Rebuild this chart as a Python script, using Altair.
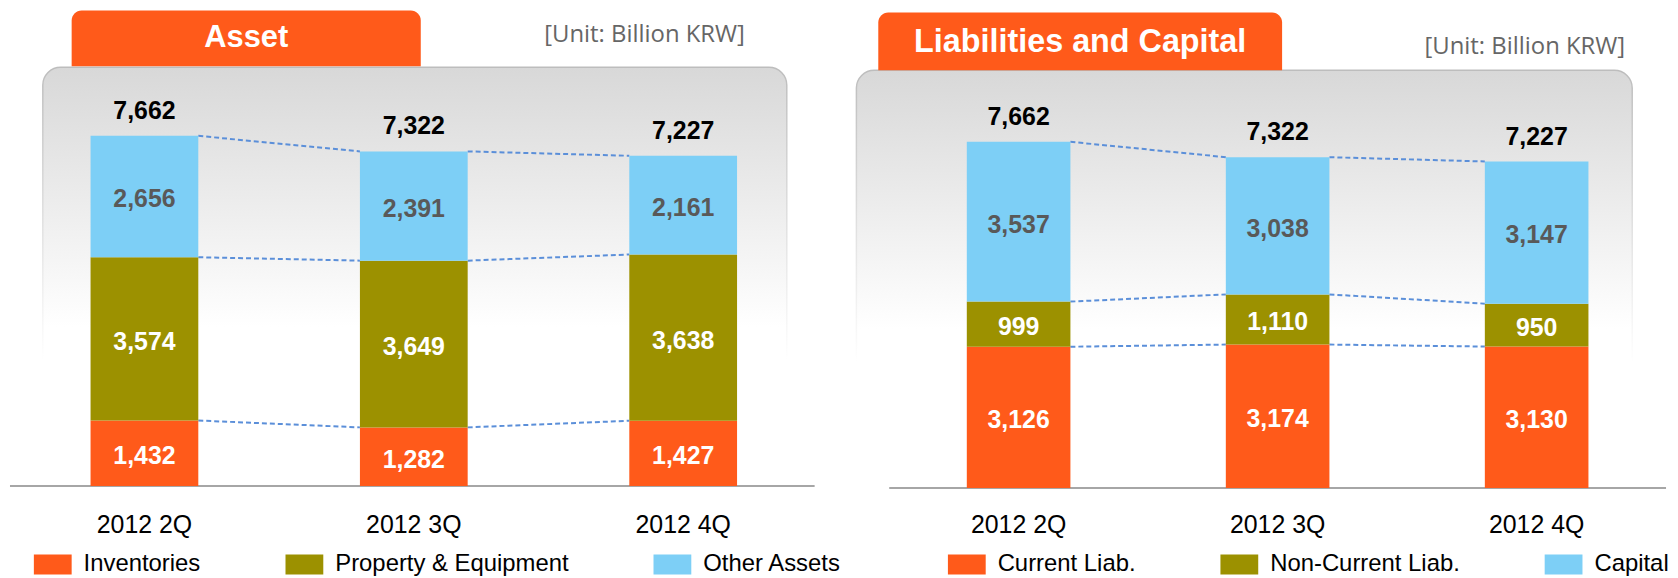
import altair as alt
import pandas as pd

# ---------------- data ----------------
periods = ["2012 2Q", "2012 3Q", "2012 4Q"]

asset_categories = ["Inventories", "Property & Equipment", "Other Assets"]
inventories = [1432, 1282, 1427]
property_equipment = [3574, 3649, 3638]
other_assets = [2656, 2391, 2161]
asset_totals = [7662, 7322, 7227]

liab_categories = ["Current Liab.", "Non-Current Liab.", "Capital"]
current_liab = [3126, 3174, 3130]
noncurrent_liab = [999, 1110, 950]
capital = [3537, 3038, 3147]
liab_totals = [7662, 7322, 7227]

# ---------------- style ----------------
ORANGE = "#FF5A1A"
OLIVE = "#9C9100"
SKY = "#7DCFF6"
SEG_COLORS = [ORANGE, OLIVE, SKY]
FONT = "Liberation Sans"
H = 566


def build_frames(categories, series, totals):
    seg_rows, tops = [], []
    for i, p in enumerate(periods):
        base = 0
        levels = []
        for j, cat in enumerate(categories):
            v = series[j][i]
            seg_rows.append(dict(period=p, category=cat, value=v,
                                 y0=base, y1=base + v, mid=base + v / 2))
            base += v
            levels.append(base)
        tops.append(levels)
    seg = pd.DataFrame(seg_rows)
    tot = pd.DataFrame(dict(period=periods, total=totals,
                            top=[t[-1] for t in tops]))
    conn_rows = []
    for i in range(len(periods) - 1):
        for j in range(len(categories)):
            conn_rows.append(dict(src=periods[i], dst=periods[i + 1],
                                  ya=tops[i][j], yb=tops[i + 1][j]))
    conn = pd.DataFrame(conn_rows)
    return seg, tot, conn


def panel(title, categories, series, totals, g):
    seg, tot, conn = build_frames(categories, series, totals)
    xscale = alt.Scale(domain=periods, range=g["xrange"],
                       paddingInner=0.6, paddingOuter=0)
    yscale = alt.Scale(domain=[0, max(totals)], range=[g["base"], g["top"]])
    one = pd.DataFrame({"k": [0]})

    box = alt.Chart(one).mark_rect(
        cornerRadius=18,
        fill=alt.Gradient(
            gradient="linear", x1=0, y1=0, x2=0, y2=1,
            stops=[alt.GradientStop(offset=0, color="#d8d8d8"),
                   alt.GradientStop(offset=0.62, color="#ffffff")]),
        stroke=alt.Gradient(
            gradient="linear", x1=0, y1=0, x2=0, y2=1,
            stops=[alt.GradientStop(offset=0, color="#bdbdbd"),
                   alt.GradientStop(offset=0.7, color="#ffffff")]),
        strokeWidth=1.5,
    ).encode(x=alt.value(g["box"][0]), x2=alt.value(g["box"][1]),
             y=alt.value(g["box"][2]), y2=alt.value(g["base"]))

    tab = alt.Chart(one).mark_rect(
        fill=ORANGE, cornerRadiusTopLeft=10, cornerRadiusTopRight=10
    ).encode(x=alt.value(g["tab"][0]), x2=alt.value(g["tab"][1]),
             y=alt.value(g["tab"][2]), y2=alt.value(g["tab"][3]))

    tab_text = alt.Chart(one).mark_text(
        text=title, font=FONT, fontSize=g["tabsize"], fontWeight="bold",
        color="white", align="center", baseline="middle"
    ).encode(x=alt.value(g["tabtext"][0]), y=alt.value(g["tabtext"][1]))

    unit = alt.Chart(one).mark_text(
        text="[Unit: Billion KRW]", font="Open Sans", fontSize=24,
        color="#666666", align="center", baseline="middle"
    ).encode(x=alt.value(g["unit"][0]), y=alt.value(g["unit"][1]))

    axis_line = alt.Chart(one).mark_rule(color="#a6a6a6", strokeWidth=2).encode(
        x=alt.value(g["line"][0]), x2=alt.value(g["line"][1]),
        y=alt.value(g["base"]))

    connectors = alt.Chart(conn).mark_rule(
        color="#5B8FD9", strokeWidth=2, strokeDash=[5, 3]
    ).encode(
        x=alt.X("src:N", bandPosition=1, scale=xscale, axis=None),
        x2=alt.X2("dst", bandPosition=0),
        y=alt.Y("ya:Q", scale=yscale, axis=None),
        y2=alt.Y2("yb"),
    )

    bars = alt.Chart(seg).mark_bar().encode(
        x=alt.X("period:N", scale=xscale, axis=None),
        y=alt.Y("y0:Q", scale=yscale, axis=None),
        y2=alt.Y2("y1"),
        color=alt.Color(
            "category:N",
            scale=alt.Scale(domain=categories, range=SEG_COLORS),
            legend=alt.Legend(
                orient="none", legendX=g["leg"][0], legendY=g["leg"][1],
                direction="horizontal", title=None,
                symbolType="M-1.9,-1H1.9V1H-1.9Z", symbolSize=400,
                symbolStrokeWidth=0, symbolOpacity=1,
                labelFont=FONT, labelFontSize=24, labelColor="black",
                labelOffset=19, columnPadding=85, labelLimit=400, padding=0,
            ),
        ),
    )

    seg_text = alt.Chart(seg).mark_text(
        font=FONT, fontSize=25, fontWeight="bold", baseline="middle", dy=3
    ).encode(
        x=alt.X("period:N", scale=xscale, axis=None),
        y=alt.Y("mid:Q", scale=yscale, axis=None),
        text=alt.Text("value:Q", format=","),
        color=alt.condition(alt.datum.category == categories[2],
                            alt.value("#595959"), alt.value("white")),
    )

    tot_text = alt.Chart(tot).mark_text(
        font=FONT, fontSize=25, fontWeight="bold", color="black",
        baseline="middle", dy=-25
    ).encode(
        x=alt.X("period:N", scale=xscale, axis=None),
        y=alt.Y("top:Q", scale=yscale, axis=None),
        text=alt.Text("total:Q", format=","),
    )

    xlab = alt.Chart(pd.DataFrame({"period": periods})).mark_text(
        font=FONT, fontSize=25, color="black", baseline="middle"
    ).encode(
        x=alt.X("period:N", scale=xscale, axis=None),
        y=alt.value(g["xlab_y"]),
        text="period:N",
    )

    return alt.layer(
        box, tab, tab_text, unit, axis_line, connectors, bars,
        seg_text, tot_text, xlab
    ).properties(width=g["W"], height=H)


left_geom = dict(
    W=838, box=(34, 782, 57), tab=(63, 414, 0, 56), tabtext=(238.5, 28),
    tabsize=31, unit=(639, 24.5), line=(1, 810), xrange=[82, 732], base=478,
    top=126, xlab_y=517.5, leg=(32, 545),
)
right_geom = dict(
    W=824, box=(7, 787, 60), tab=(29, 435, 2, 60), tabtext=(232, 32),
    tabsize=32.5, unit=(679, 36.5), line=(40, 821), xrange=[118, 743],
    base=480, top=132, xlab_y=517.5, leg=(106, 545),
)

left = panel("Asset", asset_categories,
             [inventories, property_equipment, other_assets],
             asset_totals, left_geom)
right = panel("Liabilities and Capital", liab_categories,
              [current_liab, noncurrent_liab, capital],
              liab_totals, right_geom)

chart = alt.hconcat(left, right, spacing=7, bounds="flush").resolve_scale(
    color="independent", x="independent", y="independent"
).resolve_legend(color="independent").properties(padding=0).configure_view(
    stroke="transparent"
)

chart.save("out.html", embed_options={"renderer": "svg", "actions": False})
